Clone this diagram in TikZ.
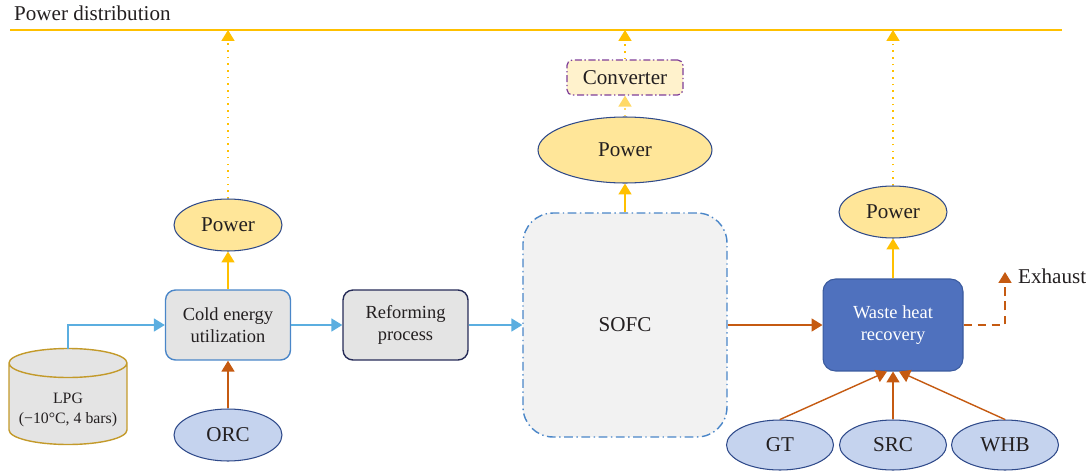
\documentclass[tikz,border=0pt]{standalone}
\usepackage{fontspec}
\setmainfont{Liberation Serif}
\usepackage{xcolor}
\usetikzlibrary{arrows.meta,calc,positioning,shapes.geometric}

\definecolor{busyellow}{HTML}{FFC000}
\definecolor{paleyellow}{HTML}{FFD966}
\definecolor{coldblue}{HTML}{5BAEE0}
\definecolor{heatorange}{HTML}{C55A11}
\definecolor{powerfill}{HTML}{FFE699}
\definecolor{cyclefill}{HTML}{C5D3EE}
\definecolor{rimblue}{HTML}{2F4A8A}
\definecolor{boxgray}{HTML}{E4E4E4}
\definecolor{cellgray}{HTML}{F2F2F2}
\definecolor{coldedge}{HTML}{4A86C8}
\definecolor{navyedge}{HTML}{262B57}
\definecolor{whrfill}{HTML}{4F71BE}
\definecolor{whredge}{HTML}{3A5A9E}
\definecolor{convfill}{HTML}{FFF2CC}
\definecolor{convedge}{HTML}{7F3F98}
\definecolor{tankedge}{HTML}{C39A2A}
\definecolor{inkgray}{HTML}{231F20}

\begin{document}
\begin{tikzpicture}[
    x=0.02cm,y=-0.02cm,
    >={Triangle[length=6.2pt,width=7.4pt]},
    every node/.style={text=inkgray},
    big/.style={font=\fontsize{12}{14}\selectfont},
    flow/.style={line width=0.8pt},
    proc/.style={draw,rounded corners=0.2cm,minimum width=2.5cm,minimum height=1.4cm,
                 fill=boxgray,line width=0.8pt,align=center,font=\fontsize{10.5}{12.5}\selectfont},
    power/.style={ellipse,draw=rimblue,fill=powerfill,minimum width=2.16cm,minimum height=1.04cm,
                  inner sep=0pt,line width=0.6pt,big},
    cycle/.style={ellipse,draw=rimblue,fill=cyclefill,minimum width=2.14cm,minimum height=1.0cm,
                  inner sep=0pt,line width=0.6pt,big},
    tap/.style={busyellow,line width=0.8pt,dash pattern=on 0.9pt off 2.9pt},
    bus/.style={busyellow,line width=1.1pt}
]
\useasboundingbox (0,0) rectangle (1091,473);

% --- Positions ---
\node[anchor=base west,big] (dist) at (8,21) {Power distribution};
\coordinate (busL) at (10,30);
\coordinate (busR) at (1062,30);

% main line of blocks
\node[proc,draw=coldedge] (cold) at (228,325) {Cold energy\\utilization};
\node[proc,draw=navyedge] (reform) at (405.5,325) {Reforming\\process};
\node[draw=coldedge,fill=cellgray,rounded corners=0.6cm,line width=0.8pt,
      dash pattern=on 5pt off 2pt on 0.8pt off 2pt,
      minimum width=4.08cm,minimum height=4.48cm,big] (sofc) at (625,325) {SOFC};
\node[draw=whredge,fill=whrfill,rounded corners=0.25cm,line width=0.6pt,
      minimum width=2.8cm,minimum height=1.84cm,align=center,text=white,
      font=\fontsize{10.5}{12.5}\selectfont] (whr) at (893,325) {Waste heat\\recovery};

% power outputs
\node[power] (powA) at (228,225) {Power};
\node[power,minimum width=3.48cm,minimum height=1.32cm] (powB) at (625,150) {Power};
\node[power] (powC) at (893,212) {Power};
\node[draw=convedge,fill=convfill,rounded corners=3pt,line width=0.7pt,
      dash pattern=on 4pt off 1.5pt on 0.8pt off 1.5pt,
      minimum width=2.32cm,minimum height=0.7cm,big] (conv) at (625,77.5) {Converter};

% cycles
\node[cycle,minimum width=2.16cm,minimum height=1.04cm] (orc) at (228,435) {ORC};
\node[cycle] (gt) at (780,445) {GT};
\node[cycle] (src) at (893,445) {SRC};
\node[cycle] (whb) at (1005,445) {WHB};

% LPG tank
\fill[boxgray] (9,363) -- (9,430) arc[start angle=180,end angle=360,x radius=1.18cm,y radius=0.29cm]
    -- (127,363) arc[start angle=0,end angle=180,x radius=1.18cm,y radius=0.29cm] -- cycle;
\draw[tankedge,line width=0.8pt] (9,363) -- (9,430) arc[start angle=180,end angle=360,x radius=1.18cm,y radius=0.29cm]
    -- (127,363) arc[start angle=0,end angle=360,x radius=1.18cm,y radius=0.29cm];
\node[align=center,font=\fontsize{9}{11.2}\selectfont] (lpg) at (68,410) {LPG\\(−10°C, 4 bars)};
\coordinate (lpgtop) at (68,349);

\coordinate (exh) at (1005,272);

% --- Lines ---
\draw[bus] (busL) -- (busR);

% fuel path
\draw[flow,coldblue,->] (lpgtop) |- (cold.west);
\draw[flow,coldblue,->] (cold) -- (reform);
\draw[flow,coldblue,->] (reform) -- (sofc);

% heat path
\draw[flow,heatorange,->] (sofc) -- (whr);
\draw[flow,heatorange,->] (orc) -- (cold);
\draw[flow,heatorange,->] (gt.north) -- ($(whr.south)+(-6,0)$);
\draw[flow,heatorange,->] (src.north) -- (whr.south);
\draw[flow,heatorange,->] (whb.north) -- ($(whr.south)+(6,0)$);
\draw[flow,heatorange,dash pattern=on 5pt off 3pt,->] (whr.east) -| (exh);
\node[anchor=west,big] (exhlbl) at (1012,276) {Exhaust};

% power to the bus
\draw[flow,busyellow,->] (cold) -- (powA);
\draw[flow,busyellow,->] (sofc) -- (powB);
\draw[flow,busyellow,->] (whr) -- (powC);
\draw[tap,->] (powA) -- (powA |- busL);
\draw[tap,paleyellow,->] (powB) -- (conv);
\draw[tap,->] (conv) -- (conv |- busL);
\draw[tap,->] (powC) -- (powC |- busL);
\end{tikzpicture}
\end{document}
